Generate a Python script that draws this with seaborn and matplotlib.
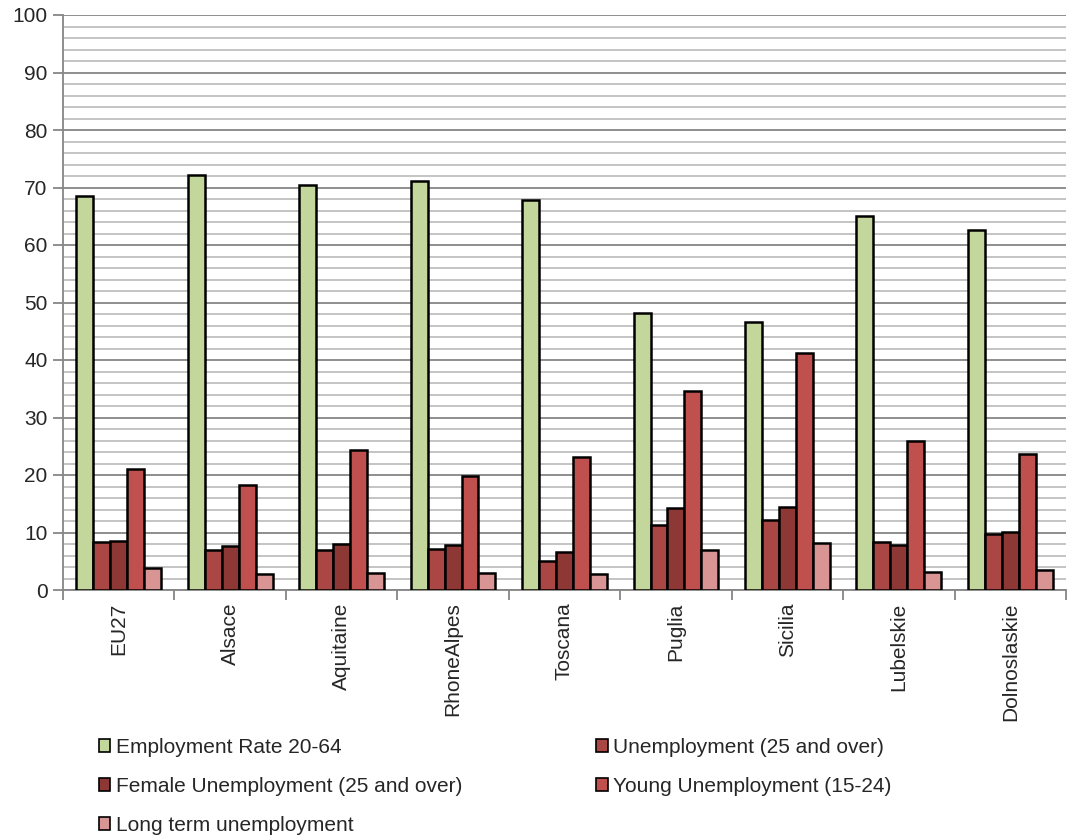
import matplotlib
matplotlib.use("Agg")
import matplotlib.pyplot as plt
import seaborn as sns
import pandas as pd
import numpy as np
from matplotlib.patches import Patch
from matplotlib.ticker import MultipleLocator, FixedLocator

regions = ["EU27", "Alsace", "Aquitaine", "RhoneAlpes", "Toscana",
           "Puglia", "Sicilia", "Lubelskie", "Dolnoslaskie"]
series = ["Employment Rate 20-64", "Unemployment (25 and over)",
          "Female Unemployment (25 and over)", "Young Unemployment (15-24)",
          "Long term unemployment"]
employment = [68.5, 72.2, 70.4, 71.1, 67.8, 48.2, 46.6, 65.0, 62.6]
unemployment = [8.3, 7.0, 7.0, 7.1, 5.1, 11.3, 12.1, 8.4, 9.8]
female_unemp = [8.5, 7.6, 8.0, 7.8, 6.6, 14.2, 14.4, 7.8, 10.1]
young_unemp = [21.0, 18.3, 24.4, 19.9, 23.1, 34.6, 41.3, 26.0, 23.7]
long_unemp = [3.8, 2.8, 3.0, 3.0, 2.8, 6.9, 8.2, 3.1, 3.5]
colors = ["#C3D69B", "#AA4644", "#8E3836", "#C0504D", "#D99594"]

values = [employment, unemployment, female_unemp, young_unemp, long_unemp]
df = pd.DataFrame([(r, s, v[i]) for s, v in zip(series, values)
                   for i, r in enumerate(regions)],
                  columns=["Region", "Series", "Value"])

sns.set_style("white")
plt.rcParams['font.family'] = ['Liberation Sans', 'DejaVu Sans']
FS = 15

fig = plt.figure(figsize=(10.68, 8.4), dpi=100)
ax = fig.add_axes([63/1068, 1-590/840, (1066-63)/1068, (590-15)/840])

sns.barplot(data=df, x="Region", y="Value", hue="Series", order=regions,
            hue_order=series, palette=colors, saturation=1, width=0.76, gap=0,
            edgecolor="black", linewidth=1.8, ax=ax, legend=False, zorder=3)

ax.set_ylim(0, 100)
ax.set_xlim(-0.5, len(regions) - 0.5)
ax.yaxis.set_major_locator(MultipleLocator(10))
ax.yaxis.set_minor_locator(MultipleLocator(2))
ax.grid(axis="y", which="minor", color="#BFBFBF", linewidth=1.3, zorder=0)
ax.grid(axis="y", which="major", color="#868686", linewidth=1.3, zorder=0)
ax.set_axisbelow(True)

for s in ["top", "right"]:
    ax.spines[s].set_visible(False)
for s in ["left", "bottom"]:
    ax.spines[s].set_color("#868686")
    ax.spines[s].set_linewidth(1.3)

ax.set_xlabel("")
ax.set_ylabel("")
ax.tick_params(axis="y", which="major", length=7, width=1.3, color="#868686",
               labelsize=FS, pad=4, direction="out", left=True)
ax.tick_params(axis="y", which="minor", length=0)
ax.set_xticks(range(len(regions)))
ax.set_xticklabels(regions, rotation=90, fontsize=FS)
ax.xaxis.set_minor_locator(FixedLocator(np.arange(-0.5, len(regions), 1.0)))
ax.tick_params(axis="x", which="major", length=0, pad=9)
ax.tick_params(axis="x", which="minor", length=7, width=1.3, color="#868686",
               direction="out", bottom=True)

order = [0, 2, 4, 1, 3]
handles = [Patch(facecolor=colors[i], edgecolor="black", linewidth=1.2) for i in order]
labels = [series[i] for i in order]
fig.legend(handles, labels, loc="upper left", bbox_to_anchor=(99/1068, 1-738/840),
           ncol=2, frameon=False, fontsize=FS, handlelength=0.55, handleheight=0.55,
           handletextpad=0.25, labelspacing=0.96, columnspacing=6.45, borderaxespad=0,
           borderpad=0)

fig.savefig("out.png", dpi=100)
